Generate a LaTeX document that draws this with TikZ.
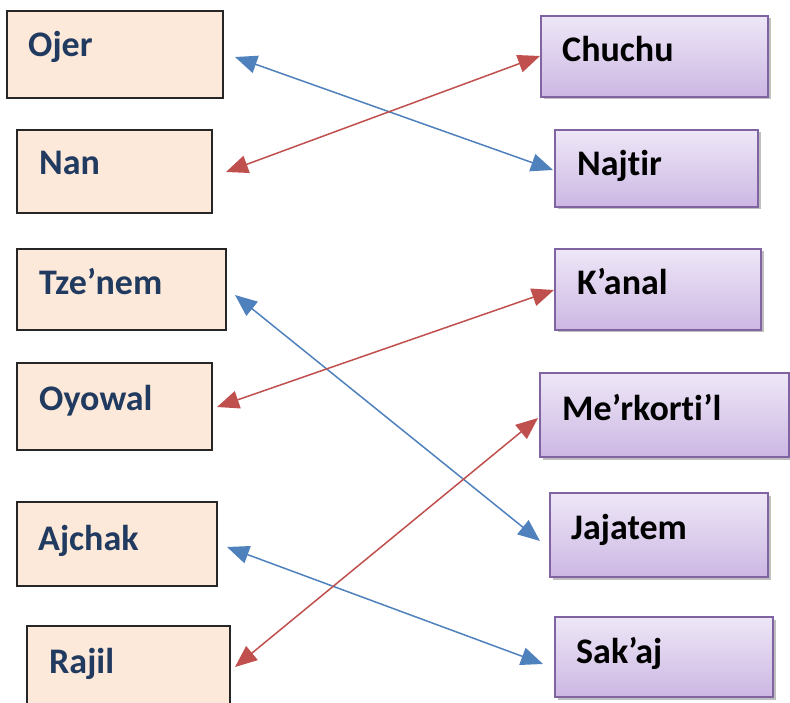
\documentclass[tikz,border=0pt]{standalone}
\usepackage{fontspec}
\setmainfont[Ligatures={NoCommon,NoRare,NoDiscretionary}]{Carlito}
\usetikzlibrary{arrows.meta,shadows}
\definecolor{lfill}{RGB}{253,233,217}
\definecolor{ltext}{RGB}{33,58,96}
\definecolor{rtop}{RGB}{238,231,247}
\definecolor{rbot}{RGB}{204,183,227}
\definecolor{rborder}{RGB}{128,100,162}
\definecolor{ablue}{RGB}{79,129,189}
\definecolor{ared}{RGB}{192,80,77}
\tikzset{
  lbox/.style={draw=black!85, line width=1.2pt, fill=lfill, inner sep=0pt},
  rbox/.style={draw=rborder, line width=1.4pt, top color=rtop, bottom color=rbot, inner sep=0pt,
    drop shadow={shadow xshift=2.5pt, shadow yshift=-2.5pt, fill=black, opacity=0.25}},
  lab/.style={anchor=base west, inner sep=0pt, font=\fontsize{36}{40}\selectfont\bfseries, text=ltext},
  rlab/.style={anchor=base west, inner sep=0pt, font=\fontsize{36}{40}\selectfont\bfseries, text=black},
  tip/.tip={Triangle[length=22pt,width=18pt]},
  conn/.style={line width=1.5pt, tip-tip},
  bluec/.style={conn, draw=ablue, fill=ablue},
  redc/.style={conn, draw=ared, fill=ared}
}
\begin{document}
\begin{tikzpicture}[x=1pt,y=-1pt]
\useasboundingbox (0,0) rectangle (790,703);
% left boxes
\node[lbox, minimum width=216, minimum height=87] (ojer) at (115,54.5) {};
\node[lab] (ojert) at (28,57) {Ojer};
\node[lbox, minimum width=195, minimum height=83] (nan) at (114.5,171.5) {};
\node[lab] (nant) at (39,175) {Nan};
\node[lbox, minimum width=209, minimum height=81] (tzenem) at (121.5,289.5) {};
\node[lab] (tzenemt) at (39,295) {Tze’nem};
\node[lbox, minimum width=195, minimum height=87] (oyowal) at (114.5,406.5) {};
\node[lab] (oyowalt) at (39,410) {Oyowal};
\node[lbox, minimum width=200, minimum height=84] (ajchak) at (117,544) {};
\node[lab] (ajchakt) at (38,550) {Ajchak};
\node[lbox, minimum width=203, minimum height=89] (rajil) at (128.5,670.5) {};
\node[lab] (rajilt) at (49,673) {Rajil};
% right boxes
\node[rbox, minimum width=227, minimum height=81] (chuchu) at (654.5,56.5) {};
\node[rlab] (chuchut) at (562,62) {Chuchu};
\node[rbox, minimum width=203, minimum height=77] (najtir) at (656.5,168.5) {};
\node[rlab] (najtirt) at (577,176) {Najtir};
\node[rbox, minimum width=206, minimum height=81] (kanal) at (658,289.5) {};
\node[rlab] (kanalt) at (577,295) {K’anal};
\node[rbox, minimum width=249, minimum height=84] (merk) at (664.5,415) {};
\node[rlab] (merkt) at (562,420) {Me’rkorti’l};
\node[rbox, minimum width=218, minimum height=84] (jajatem) at (659,535) {};
\node[rlab] (jajatemt) at (571,539) {Jajatem};
\node[rbox, minimum width=218, minimum height=80] (sakaj) at (664,657) {};
\node[rlab] (sakajt) at (576,663) {Sak’aj};
% connector ends
\coordinate (b1a) at (235,57);
\coordinate (b1b) at (553,170);
\coordinate (r1a) at (226,172);
\coordinate (r1b) at (540,56);
\coordinate (b2a) at (235,295);
\coordinate (b2b) at (540,541);
\coordinate (r2a) at (217,407);
\coordinate (r2b) at (554,290);
\coordinate (b3a) at (227,547);
\coordinate (b3b) at (543,664);
\coordinate (r3a) at (235,667);
\coordinate (r3b) at (538,418);
% connectors
\draw[bluec] (b1a) -- (b1b);
\draw[redc] (r1a) -- (r1b);
\draw[bluec] (b2a) -- (b2b);
\draw[redc] (r2a) -- (r2b);
\draw[bluec] (b3a) -- (b3b);
\draw[redc] (r3a) -- (r3b);
\end{tikzpicture}
\end{document}
